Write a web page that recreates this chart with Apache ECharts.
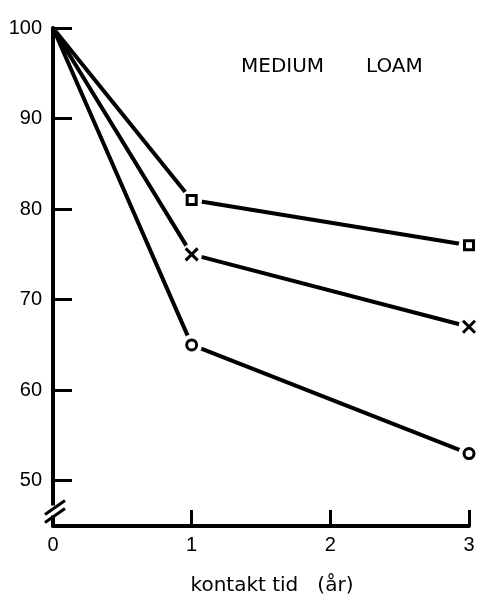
<!DOCTYPE html>
<html>
<head>
<meta charset="utf-8">
<script src="https://cdn.jsdelivr.net/npm/echarts@6/dist/echarts.min.js"></script>
<style>
  html, body { margin: 0; padding: 0; background: #fff; }
  #chart { width: 483px; height: 601px; }
</style>
</head>
<body>
<div id="chart"></div>
<script>
// Contact time in years and the remaining share (%) for three treatments
const years = [0, 1, 3];
const squareSeries = [100, 81, 76];
const crossSeries = [100, 75, 67];
const circleSeries = [100, 65, 53];
const yTickValues = [50, 60, 70, 80, 90, 100];
const xTickValues = [0, 1, 2, 3];
const titleWords = ['MEDIUM', 'LOAM'];
const xAxisTitle = 'kontakt tid   (år)';

const INK = '#000';
const NUM_FONT = '"Liberation Sans", Arial, sans-serif';
const TEXT_FONT = '"DejaVu Sans", sans-serif';
const crossPath = 'path://M0,0L10,10M10,0L0,10';

function pairs(vals) {
  return years.map((x, i) => [x, vals[i]]);
}

// markers only on the measured points after time zero
function markerPoints(vals) {
  return pairs(vals).slice(1);
}

function lineSeries(vals) {
  return {
    type: 'line',
    data: pairs(vals),
    symbol: 'none',
    lineStyle: { color: INK, width: 4 },
    z: 2,
    silent: true
  };
}

// white backing that opens a small gap between the lines and each marker
function backing(vals) {
  return {
    type: 'scatter',
    data: markerPoints(vals),
    symbol: 'circle',
    symbolSize: 21,
    itemStyle: { color: '#fff', opacity: 1 },
    z: 3,
    silent: true
  };
}

function markers(vals, symbol, size, fill) {
  return {
    type: 'scatter',
    data: markerPoints(vals),
    symbol: symbol,
    symbolSize: size,
    itemStyle: { color: fill, borderColor: INK, borderWidth: 3, opacity: 1 },
    z: 4,
    silent: true
  };
}

const chart = echarts.init(document.getElementById('chart'), null, { renderer: 'canvas' });

const titleStyle = { fontFamily: TEXT_FONT, fontSize: 20, fontWeight: 'normal', color: INK };

chart.setOption({
  backgroundColor: '#fff',
  animation: false,
  grid: { left: 53, right: 14, top: 28, bottom: 70, containLabel: false },
  title: [
    { text: titleWords[0], left: 236, top: 52, textStyle: titleStyle },
    { text: titleWords[1], left: 361, top: 52, textStyle: titleStyle }
  ],
  xAxis: {
    type: 'value',
    min: 0,
    max: 3,
    interval: 1,
    name: xAxisTitle,
    nameLocation: 'middle',
    nameGap: 50,
    nameTextStyle: { fontFamily: TEXT_FONT, fontSize: 20, color: INK, padding: [0, 0, 0, 22] },
    axisLine: { show: true, lineStyle: { color: INK, width: 4 } },
    axisTick: { show: true, inside: true, length: 16, lineStyle: { color: INK, width: 3 }, customValues: xTickValues.slice(1) },
    axisLabel: { fontFamily: NUM_FONT, fontSize: 20, color: INK, margin: 9, customValues: xTickValues },
    splitLine: { show: false }
  },
  yAxis: {
    type: 'value',
    min: 45,
    max: 100,
    axisLine: { show: true, lineStyle: { color: INK, width: 4 } },
    axisTick: { show: true, inside: true, length: 19, lineStyle: { color: INK, width: 3 }, customValues: yTickValues },
    axisLabel: { fontFamily: NUM_FONT, fontSize: 20, color: INK, margin: 11, customValues: yTickValues },
    splitLine: { show: false }
  },
  series: [
    lineSeries(squareSeries),
    lineSeries(crossSeries),
    lineSeries(circleSeries),
    backing(squareSeries),
    backing(crossSeries),
    backing(circleSeries),
    markers(squareSeries, 'rect', 9, '#fff'),
    markers(crossSeries, crossPath, 12, 'none'),
    markers(circleSeries, 'circle', 10, '#fff')
  ]
});

// axis-break mark: two short parallel slashes across the value axis
function drawBreak() {
  const p = chart.convertToPixel({ gridIndex: 0 }, [0, 46.6]);
  const x = p[0], y = p[1];
  const slash = (dy) => ({
    type: 'line',
    shape: { x1: x - 8, y1: y + dy + 7, x2: x + 12, y2: y + dy - 7 },
    style: { stroke: INK, lineWidth: 3 },
    z: 10,
    silent: true
  });
  chart.setOption({
    graphic: [
      {
        type: 'rect',
        shape: { x: x - 3, y: y - 6, width: 6, height: 10 },
        style: { fill: '#fff' },
        z: 9,
        silent: true
      },
      slash(-4),
      slash(4)
    ]
  });
}
drawBreak();
</script>
</body>
</html>
